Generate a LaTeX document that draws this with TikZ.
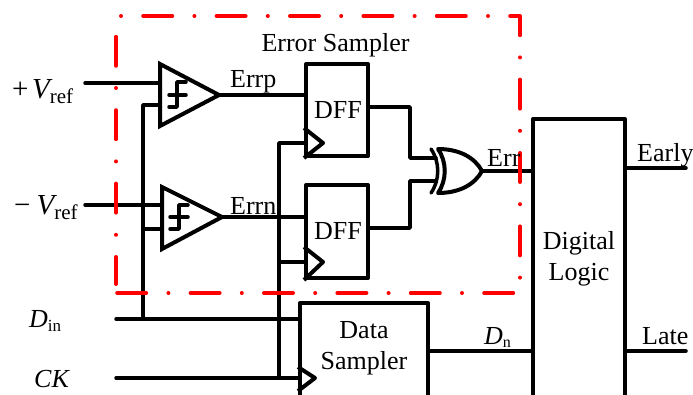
\documentclass[tikz,border=0pt]{standalone}
\usepackage{fontspec}
\setmainfont{Liberation Serif}
\usetikzlibrary{positioning}
\tikzset{
    wire/.style={line width=3.5pt, line join=round, line cap=round},
    block/.style={draw, line width=4pt, line join=round, inner sep=0pt, align=center},
    gate/.style={draw, line width=4pt, line join=miter},
    lbl/.style={inner sep=0pt, font=\fontsize{26}{31}\selectfont, align=center},
    redbox/.style={red, line width=4pt, line cap=round, line join=round}
}
% italic letter, lowered upright subscript
\newcommand{\subtext}[5]{{\fontsize{#1}{#1}\selectfont\itshape #2}\raisebox{#3pt}{\fontsize{#4}{#4}\selectfont #5}}
\begin{document}
\begin{tikzpicture}[x=1pt, y=-1pt]
    \useasboundingbox (0,0) rectangle (693,394);

    % blocks
    \node[block, minimum width=62pt, minimum height=92pt, font=\fontsize{26}{31}\selectfont] (dffa) at (337,110) {\kern2pt DFF};
    \node[block, minimum width=62pt, minimum height=93pt, font=\fontsize{26}{31}\selectfont] (dffb) at (337,231.5) {\kern2pt DFF};
    \node[block, minimum width=128pt, minimum height=96pt] (sampler) at (364,351) {};
    \node[lbl] (samplertext) at (364,348) {Data\\Sampler};
    \node[block, minimum width=92pt, minimum height=280pt, font=\fontsize{26}{31}\selectfont] (logic) at (579,259) {Digital\\Logic};

    % comparators
    \coordinate (cmpa) at (219,95);
    \coordinate (cmpb) at (222,217);
    \draw[gate] (160,64) -- (160,126) -- (cmpa) -- cycle;
    \draw[gate] (162,187) -- (162,249) -- (cmpb) -- cycle;
    \draw[wire] (186,82) -- (177,82) -- (177,107) -- (169,107) (169,95) -- (186,95);
    \draw[wire] (188,205) -- (179,205) -- (179,229) -- (170,229) (170,217) -- (188,217);

    % xor
    \coordinate (xorout) at (482,171);
    \draw[gate, line join=round] (438,149) .. controls (460,149) and (475,158) .. (xorout)
        .. controls (475,184) and (460,193) .. (438,193)
        .. controls (447,180) and (447,162) .. cycle;
    \draw[wire] (431,149) .. controls (440,162) and (440,180) .. (431,193);

    % clock marks
    \draw[gate, line join=round] (dffa.west |- 0,128) -- (323,143) -- (dffa.south west);
    \draw[gate, line join=round] (dffb.west |- 0,247) -- (323,262) -- (dffb.south west);
    \draw[gate, line join=round] (sampler.west |- 0,367) -- (315,378) -- (sampler.west |- 0,391);

    % ports
    \coordinate (vpos) at (85,83);
    \coordinate (vneg) at (85,205);
    \coordinate (din) at (116,319);
    \coordinate (ck) at (116,378);
    \coordinate (refbus) at (143,105);
    \coordinate (ckbus) at (279,143);
    \coordinate (early) at (686,168);
    \coordinate (late) at (686,351);

    % wires
    \draw[wire] (vpos) -- (vpos -| 160,0);
    \draw[wire] (vneg) -- (vneg -| 162,0);
    \draw[wire] (160,105) -- (refbus) -- (refbus |- din);
    \draw[wire] (162,229) -- (refbus |- 0,229);
    \draw[wire] (din) -- (din -| sampler.west);
    \draw[wire] (ck) -- (ck -| sampler.west);
    \draw[wire] (dffa.west |- ckbus) -- (ckbus) -- (ckbus |- ck);
    \draw[wire] (dffb.west |- 0,262) -- (ckbus |- 0,262);
    \draw[wire] (cmpa) -- (cmpa -| dffa.west);
    \draw[wire] (cmpb) -- (cmpb -| dffb.west);
    \draw[wire] (dffa.east |- 0,107) -- (410,107) -- (410,158) -- (436,158);
    \draw[wire] (dffb.east |- 0,228) -- (410,228) -- (410,181) -- (436,181);
    \draw[wire] (xorout) -- (xorout -| logic.west);
    \draw[wire] (sampler.east |- late) -- (late -| logic.west);
    \draw[wire] (logic.east |- early) -- (early);
    \draw[wire] (logic.east |- late) -- (late);

    % error sampler outline
    \draw[redbox, dash pattern=on 0pt off 22.2pt on 29pt off 22.2pt] (121,16) -- (520,16) -- (520,293) -- (116,293);
    \draw[redbox, dash pattern=on 29pt off 22.2pt on 0pt off 22.2pt, dash phase=2pt] (116,284) -- (116,32);

    % labels
    \node[lbl] (errsam) at (335.5,45) {Error Sampler};
    \node[lbl, anchor=base west] (errp) at (230,87) {Errp};
    \node[lbl, anchor=base west] (errn) at (230,214) {Errn};
    \node[lbl, anchor=base west] (err) at (487,166) {Err};
    \node[lbl, anchor=base west] (earlytext) at (637,161) {Early};
    \node[lbl, anchor=base west] (latetext) at (642,344) {Late};
    \node[lbl, anchor=base west] (vpostext) at (12,98) {\fontsize{29}{29}\selectfont +\kern3.5pt\subtext{29}{V}{-5}{21}{ref}};
    \node[lbl, anchor=base west] (vnegtext) at (14,214) {\fontsize{29}{29}\selectfont −\kern6pt\subtext{29}{V}{-5}{21}{ref}};
    \node[lbl, anchor=base west] (dintext) at (29,327) {\subtext{26}{D}{-4}{17}{in}};
    \node[lbl, anchor=base west] (cktext) at (34,387) {\itshape CK};
    \node[lbl, anchor=base west] (dntext) at (484,344) {\subtext{26}{D}{-3}{16}{n}};
\end{tikzpicture}
\end{document}
